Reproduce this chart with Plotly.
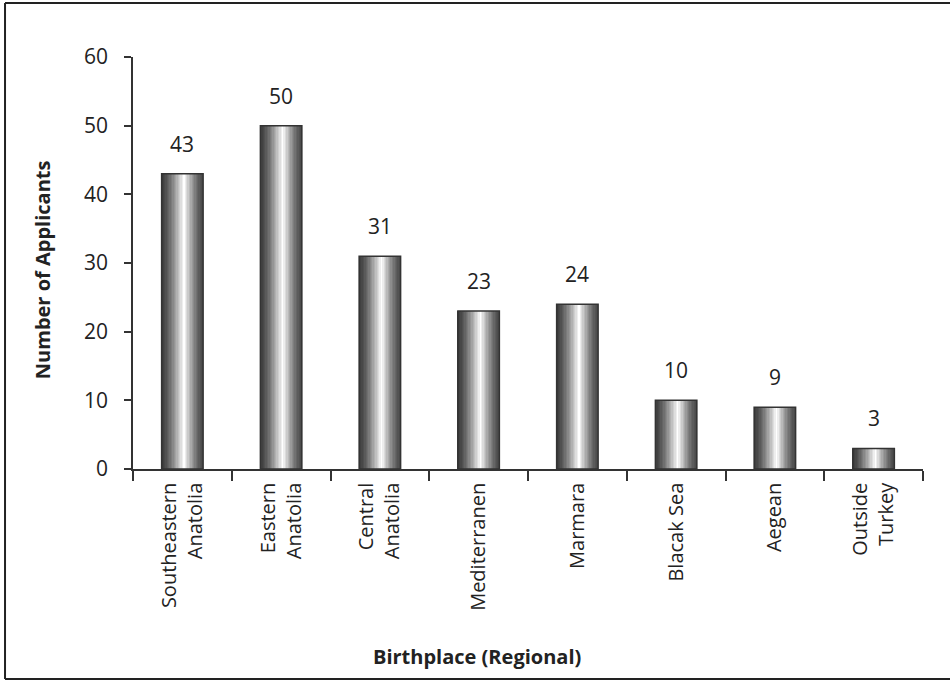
import plotly.graph_objects as go

categories = ["Southeastern<br>Anatolia", "Eastern<br>Anatolia", "Central<br>Anatolia",
              "Mediterranen", "Marmara", "Blacak Sea", "Aegean", "Outside<br>Turkey"]
values = [43, 50, 31, 23, 24, 10, 9, 3]
y_ticks = [0, 10, 20, 30, 40, 50, 60]

FONT = "Open Sans"
TXT = "#222222"
BAR_W = 0.42
N = 30
PEAK = 0.55
LO_L, LO_R = 58, 75


def shade(t):
    if t <= PEAK:
        s = t / PEAK
        lo = LO_L
    else:
        s = (1 - t) / (1 - PEAK)
        lo = LO_R
    v = int(round(lo + (255 - lo) * (s ** 1.4)))
    return f"rgb({v},{v},{v})"


fig = go.Figure()
sw = BAR_W / N
for i in range(N):
    t = (i + 0.5) / N
    fig.add_trace(go.Bar(
        x=categories, y=values, width=[sw * 1.05] * len(values),
        offset=-BAR_W / 2 + i * sw,
        marker=dict(color=shade(t), line=dict(width=0)),
        hoverinfo="skip", showlegend=False))

fig.add_trace(go.Bar(
    x=categories, y=values, width=[BAR_W] * len(values), offset=-BAR_W / 2,
    marker=dict(color="rgba(0,0,0,0)", line=dict(color="#333333", width=1.5)),
    hoverinfo="skip", showlegend=False))

for c, v in zip(categories, values):
    fig.add_annotation(x=c, y=v, text=str(v), showarrow=False, yshift=30,
                       font=dict(family=FONT, size=21, color=TXT))

fig.add_annotation(xref="paper", yref="paper", x=-0.115, y=0.483,
                   xanchor="center", yanchor="middle",
                   text="<b>Number of Applicants</b>", textangle=-90, showarrow=False,
                   font=dict(family=FONT, size=20, color=TXT))
fig.add_annotation(xref="paper", yref="paper", x=0.435, y=-0.456,
                   xanchor="center", yanchor="middle",
                   text="<b>Birthplace (Regional)</b>", showarrow=False,
                   font=dict(family=FONT, size=20, color=TXT))

# frame
fr = dict(color="#222222", width=2)
fig.add_shape(type="line", xref="paper", yref="paper", x0=-0.162, x1=1.05, y0=1.131, y1=1.131, line=fr)
fig.add_shape(type="line", xref="paper", yref="paper", x0=-0.162, x1=-0.162, y0=1.131, y1=-0.5097, line=fr)
fig.add_shape(type="line", xref="paper", yref="paper", x0=-0.162, x1=1.05, y0=-0.5097, y1=-0.5097, line=fr)

fig.update_layout(
    width=950, height=681, barmode="overlay",
    margin=dict(l=133, r=27, t=57, b=212),
    paper_bgcolor="white", plot_bgcolor="white",
    font=dict(family=FONT, color=TXT),
    xaxis=dict(showline=True, linecolor="#333333", linewidth=1.5,
               ticks="outside", ticklen=10, tickcolor="#333333", tickwidth=1.5,
               tickson="boundaries", tickangle=-90, showgrid=False,
               tickfont=dict(family=FONT, size=20, color=TXT), ticklabelstandoff=4),
    yaxis=dict(range=[0, 60], tickvals=y_ticks, showline=True, linecolor="#333333",
               linewidth=1.5, ticks="outside", ticklen=7, tickcolor="#333333",
               tickwidth=1.5, showgrid=False, zeroline=False,
               tickfont=dict(family=FONT, size=21, color=TXT), ticklabelstandoff=12),
)

fig.write_html("out.html")
